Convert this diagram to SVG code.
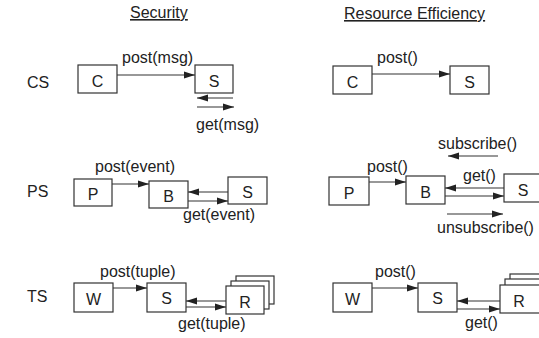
<svg xmlns="http://www.w3.org/2000/svg" width="539" height="338" viewBox="0 0 539 338">
<style>
text{font-family:"Liberation Sans",Arial,sans-serif;font-size:16px;fill:#222}
.c{text-anchor:middle}
.box{fill:#fff;stroke:#333;stroke-width:1.2}
.ln{stroke:#333;stroke-width:1.2;fill:none;marker-end:url(#ah)}
.t{text-decoration:underline}
</style>
<defs>
<marker id="ah" markerUnits="userSpaceOnUse" markerWidth="11" markerHeight="8" refX="11" refY="4" orient="auto">
<path d="M0,0.5 L11,4 L0,7.5 z" fill="#222"/>
</marker>
</defs>
<g id="titles">
<text x="130" y="18" class="t">Security</text>
<text x="344" y="19" class="t">Resource Efficiency</text>
</g>
<g id="rowlabels">
<text x="27" y="88">CS</text>
<text x="27" y="197">PS</text>
<text x="27" y="302">TS</text>
</g>
<g id="connectors">
<line class="ln" x1="117" y1="75" x2="195" y2="75"/>
<line class="ln" x1="233" y1="98" x2="197" y2="98"/>
<line class="ln" x1="197" y1="107" x2="234" y2="107"/>
<line class="ln" x1="372" y1="74" x2="450" y2="74"/>
<line class="ln" x1="112" y1="184" x2="149" y2="184"/>
<line class="ln" x1="228" y1="192" x2="188" y2="192"/>
<line class="ln" x1="188" y1="201" x2="228" y2="201"/>
<line class="ln" x1="369" y1="182" x2="406" y2="182"/>
<line class="ln" x1="504" y1="188" x2="445" y2="188"/>
<line class="ln" x1="445" y1="196" x2="504" y2="196"/>
<line class="ln" x1="498" y1="156" x2="448" y2="156"/>
<line class="ln" x1="447" y1="214" x2="503" y2="214"/>
<line class="ln" x1="113" y1="288" x2="147" y2="288"/>
<line class="ln" x1="226" y1="301" x2="186" y2="301"/>
<line class="ln" x1="186" y1="307" x2="226" y2="307"/>
<line class="ln" x1="372" y1="288" x2="418" y2="288"/>
<line class="ln" x1="500" y1="301" x2="457" y2="301"/>
<line class="ln" x1="457" y1="309" x2="500" y2="309"/>
</g>
<g id="labels">
<text x="122" y="63">post(msg)</text>
<text x="196" y="130">get(msg)</text>
<text x="377" y="63">post()</text>
<text x="95" y="172">post(event)</text>
<text x="183" y="220">get(event)</text>
<text x="438" y="149">subscribe()</text>
<text x="367" y="172">post()</text>
<text x="463" y="181">get()</text>
<text x="437" y="233">unsubscribe()</text>
<text x="100" y="277">post(tuple)</text>
<text x="178" y="329">get(tuple)</text>
<text x="375" y="277">post()</text>
<text x="465" y="328">get()</text>
</g>
<g id="cs-sec-C"><rect class="box" x="78" y="65" width="39" height="28"/><text class="c" x="97.5" y="87">C</text></g>
<g id="cs-sec-S"><rect class="box" x="195" y="65" width="38" height="28"/><text class="c" x="214" y="87">S</text></g>
<g id="cs-res-C"><rect class="box" x="333" y="66" width="39" height="28"/><text class="c" x="352.5" y="88">C</text></g>
<g id="cs-res-S"><rect class="box" x="450" y="66" width="39" height="28"/><text class="c" x="469.5" y="88">S</text></g>
<g id="ps-sec-P"><rect class="box" x="74" y="179" width="38" height="27"/><text class="c" x="93" y="200">P</text></g>
<g id="ps-sec-B"><rect class="box" x="149" y="181" width="39" height="27"/><text class="c" x="168.5" y="202">B</text></g>
<g id="ps-sec-S"><rect class="box" x="228" y="177" width="39" height="27"/><text class="c" x="247.5" y="198">S</text></g>
<g id="ps-res-P"><rect class="box" x="329" y="177" width="40" height="28"/><text class="c" x="349" y="199">P</text></g>
<g id="ps-res-B"><rect class="box" x="406" y="176" width="39" height="28"/><text class="c" x="425.5" y="198">B</text></g>
<g id="ps-res-S"><rect class="box" x="504" y="174" width="40" height="28"/><text class="c" x="523" y="196">S</text></g>
<g id="ts-sec-W"><rect class="box" x="74" y="283" width="39" height="29"/><text class="c" x="93.5" y="305">W</text></g>
<g id="ts-sec-S"><rect class="box" x="147" y="283" width="39" height="29"/><text class="c" x="166.5" y="304">S</text></g>
<g id="ts-sec-R">
<rect class="box" x="236" y="276" width="38" height="28"/>
<rect class="box" x="231" y="281" width="38" height="28"/>
<rect class="box" x="226" y="286" width="38" height="28"/>
<text class="c" x="245" y="308">R</text>
</g>
<g id="ts-res-W"><rect class="box" x="333" y="283" width="39" height="29"/><text class="c" x="352.5" y="305">W</text></g>
<g id="ts-res-S"><rect class="box" x="418" y="283" width="39" height="29"/><text class="c" x="437.5" y="304">S</text></g>
<g id="ts-res-R">
<rect class="box" x="510" y="274" width="40" height="28"/>
<rect class="box" x="505" y="279" width="40" height="28"/>
<rect class="box" x="500" y="285" width="40" height="28"/>
<text class="c" x="519" y="307">R</text>
</g>
</svg>
